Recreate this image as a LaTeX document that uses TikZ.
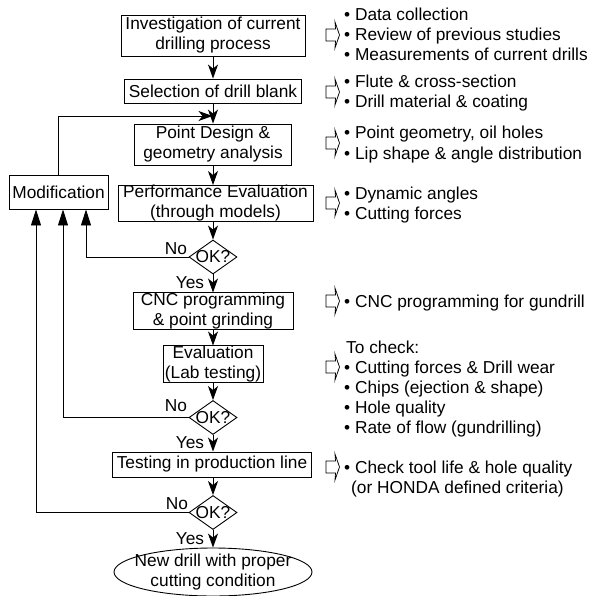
\documentclass[tikz,border=0pt]{standalone}
\usepackage{fontspec}
\setmainfont{Liberation Sans}
\usetikzlibrary{shapes.geometric,arrows.meta}
\begin{document}
\begin{tikzpicture}[x=1pt,y=-1pt,
  every node/.style={font=\fontsize{17.3}{20}\selectfont, inner sep=0pt},
  flowbox/.style={draw, line width=0.9pt, align=center},
  decide/.style={draw, diamond, line width=0.9pt, minimum width=48pt, minimum height=34pt},
  endnode/.style={draw, ellipse, line width=0.9pt, minimum width=198pt, minimum height=48pt},
  note/.style={anchor=base west},
  dn/.style={line width=0.9pt, -{Stealth[length=14pt,width=10pt,inset=4pt]}},
  bk/.style={line width=0.9pt, -{Triangle[length=16pt,width=10pt]}},
  harrow/.pic={\draw[line width=0.75pt] (0,-6) -- (9.5,-6) -- (9,-13) -- (13.5,0) -- (9,13) -- (9.5,6) -- (0,6) -- cycle;}
]
\useasboundingbox (0,0) rectangle (591,596);
\coordinate (ax) at (213,0);

% main flow
\node[flowbox, minimum width=184pt, minimum height=41pt] (b1) at (213,35.5) {Investigation of current\\drilling process};
\node[flowbox, minimum width=177pt, minimum height=24pt] (b2) at (213,91) {Selection of drill blank};
\node[flowbox, minimum width=157pt, minimum height=41pt] (b3) at (213,144.5) {Point Design \&\\geometry analysis};
\node[flowbox, minimum width=195pt, minimum height=35pt] (b4) at (215.5,203.5) {Performance Evaluation\\(through models)};
\node[flowbox, minimum width=99pt, minimum height=34pt] (mod) at (58.5,192) {Modification};
\node[decide] (d1) at (213,257) {\makebox[0pt]{OK?}};
\node[flowbox, minimum width=160pt, minimum height=36pt] (cnc) at (213,311) {CNC programming\\\& point grinding};
\node[flowbox, minimum width=100pt, minimum height=36pt] (ev) at (213,364) {Evaluation\\(Lab testing)};
\node[decide] (d2) at (213,417.5) {\makebox[0pt]{OK?}};
\node[flowbox, minimum width=199pt, minimum height=25pt] (tst) at (212,464.5) {Testing in production line};
\node[decide] (d3) at (213,512.5) {\makebox[0pt]{OK?}};
\node[endnode, label={[align=center]center:New drill with proper\\cutting condition}] (fin) at (213,572) {};

% connectors
\draw[dn] (b1.south -| ax) -- (b2.north -| ax);
\draw[dn] (b2.south -| ax) -- (b3.north -| ax);
\draw[dn] (b3.south -| ax) -- (b4.north -| ax);
\draw[dn] (b4.south -| ax) -- (d1.north);
\draw[dn] (d1.south) -- (cnc.north -| ax);
\draw[dn] (cnc.south -| ax) -- (ev.north -| ax);
\draw[dn] (ev.south -| ax) -- (d2.north);
\draw[dn] (d2.south) -- (tst.north -| ax);
\draw[dn] (tst.south -| ax) -- (d3.north);
\draw[dn] (d3.south) -- (fin.north -| ax);
\coordinate (fbin) at (212.5,116);
\draw[dn] (mod.north) |- (fbin);
\draw[bk] (d1.west) -| ([xshift=27.5pt]mod.south);
\draw[bk] (d2.west) -| ([xshift=4.5pt]mod.south);
\draw[bk] (d3.west) -| ([xshift=-22.5pt]mod.south);

% decision labels
\node (n1) at (176,249) {No};
\node (y1) at (190,283) {Yes};
\node (n2) at (176,406) {No};
\node (y2) at (190,443) {Yes};
\node (n3) at (177,503.5) {No};
\node (y3) at (190,539) {Yes};

% hollow arrows
\pic at (326,35) {harrow};
\pic at (326,92) {harrow};
\pic at (326,143) {harrow};
\pic at (326,203) {harrow};
\pic at (326,301) {harrow};
\pic at (326,367) {harrow};
\pic at (326,467) {harrow};

% notes
\node[note] (t1a) at (344,21) {• Data collection};
\node[note] (t1b) at (344,41) {• Review of previous studies};
\node[note] (t1c) at (344,61) {• Measurements of current drills};
\node[note] (t2a) at (344,88) {• Flute \& cross-section};
\node[note] (t2b) at (344,108) {• Drill material \& coating};
\node[note] (t3a) at (344,139) {• Point geometry, oil holes};
\node[note] (t3b) at (344,160) {• Lip shape \& angle distribution};
\node[note] (t4a) at (344,199) {• Dynamic angles};
\node[note] (t4b) at (344,219) {• Cutting forces};
\node[note] (t5a) at (344,307) {• CNC programming for gundrill};
\node[note] (t6h) at (346,353) {To check:};
\node[note] (t6a) at (344,373) {• Cutting forces \& Drill wear};
\node[note] (t6b) at (344,393) {• Chips (ejection \& shape)};
\node[note] (t6c) at (344,413) {• Hole quality};
\node[note] (t6d) at (344,433) {• Rate of flow (gundrilling)};
\node[note] (t7a) at (344,473) {• Check tool life \& hole quality};
\node[note] (t7b) at (351,493) {(or HONDA defined criteria)};
\end{tikzpicture}
\end{document}
